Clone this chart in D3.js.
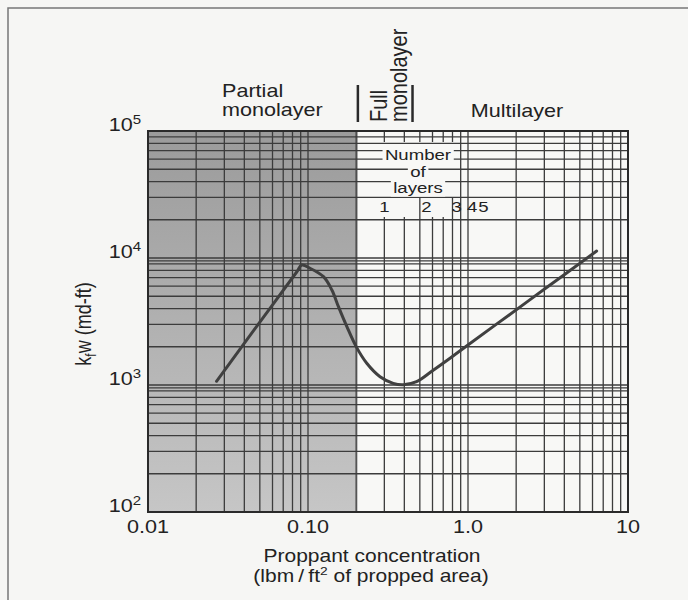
<!DOCTYPE html>
<html>
<head>
<meta charset="utf-8">
<script src="https://cdn.jsdelivr.net/npm/d3@7"></script>
<style>
  body { margin: 0; background: #f6f6f4; }
  svg { display: block; font-family: "Liberation Sans", Arial, sans-serif; }
</style>
</head>
<body>
<svg id="chart" width="688" height="600"></svg>
<script>
// curve
const concentration = [0.0268, 0.05, 0.085, 0.0914, 0.103, 0.125, 0.141, 0.155, 0.175, 0.2, 0.233, 0.282, 0.341, 0.394, 0.477, 0.6, 0.772, 0.98, 1.5, 3.1, 6.37];
const conductivity = [1070, 3130, 7760, 8800, 8300, 7130, 5600, 4140, 2880, 2005, 1483, 1162, 1031, 1005, 1062, 1295, 1625, 2030, 3000, 5850, 11350];

const xTicks = [0.01, 0.1, 1, 10];
const xTickLabels = ["0.01", "0.10", "1.0", "10"];
const yTicks = [100, 1000, 10000, 100000];
const yTickExp = ["2", "3", "4", "5"];

const partialZone = [0.01, 0.205];
const fullMonoZone = [0.205, 0.45];
const layerNames = ["1", "2", "3", "4", "5"];
const layerAt = [0.3, 0.55, 0.85, 1.06, 1.25];
const layerLines = [0.5, 0.8];   // lines that reach up through the label row

const svg = d3.select("#chart");
const W = 688, H = 600;
const x = d3.scaleLog().domain([0.01, 10]).range([148, 628]);
const y = d3.scaleLog().domain([100, 100000]).range([512, 131]);
const [x0, x1] = x.range();
const [y1, y0] = y.range();
const textInk = "#222";

// all text in the scan is stretched sideways
const stretched = (parent, tx, ty, size, anchor) => parent.append("text")
    .attr("transform", `translate(${tx},${ty}) scale(1.2,1)`)
    .attr("font-size", size)
    .attr("text-anchor", anchor)
    .attr("fill", textInk);

// page frame
svg.append("path").attr("d", `M8,${H} V8 H${W}`).attr("fill", "none").attr("stroke", "#777").attr("stroke-width", 1.5);

const defs = svg.append("defs");
const grad = defs.append("linearGradient").attr("id", "shade").attr("x1", 0).attr("y1", 0).attr("x2", 0).attr("y2", 1);
grad.append("stop").attr("offset", "0%").attr("stop-color", "#9b9b9b");
grad.append("stop").attr("offset", "100%").attr("stop-color", "#c6c6c6");

svg.append("rect").attr("x", x0).attr("y", y0).attr("width", x1 - x0).attr("height", y1 - y0).attr("fill", "#f8f8f6");
svg.append("rect")
    .attr("x", x(partialZone[0])).attr("y", y0)
    .attr("width", x(partialZone[1]) - x(partialZone[0])).attr("height", y1 - y0)
    .attr("fill", "url(#shade)");

// log grid values
const gridVals = (lo, hi) => {
    const out = [];
    for (let d = lo; d < hi * 0.999; d *= 10) {
        for (let m = 1; m <= 9; m++) out.push(+(d * m).toPrecision(3));
    }
    out.push(hi);
    return out;
};
const xGrid = gridVals(0.01, 10);
const yGrid = gridVals(100, 100000);

const grid = svg.append("g").attr("stroke", "#3c3c3c").attr("stroke-width", 1.3);

grid.selectAll(".h").data(yGrid).enter().append("line")
    .attr("x1", x0).attr("x2", x1)
    .attr("y1", d => y(d)).attr("y2", d => y(d));
// printed paper doubles the inner decade lines
grid.selectAll(".hd").data([1000, 10000]).enter().append("line")
    .attr("x1", x0).attr("x2", x1)
    .attr("y1", d => y(d * 0.95)).attr("y2", d => y(d * 0.95));

const inLabelZone = d => d > 0.25 && d < 0.85;
const labelRowTop = 217, tallTop = 198;

grid.selectAll(".v").data(xGrid).enter().append("line")
    .attr("x1", d => x(d)).attr("x2", d => x(d))
    .attr("y1", d => inLabelZone(d) ? (layerLines.includes(d) ? tallTop : labelRowTop) : y0)
    .attr("y2", y1);
grid.selectAll(".vt").data(xGrid.filter(inLabelZone)).enter().append("line")
    .attr("x1", d => x(d)).attr("x2", d => x(d))
    .attr("y1", y0).attr("y2", y0 + 11);

// "Number of layers" note with white boxes behind it
const note = svg.append("g");
["Number", "of", "layers"].forEach((t, i) => {
    const g = note.append("g").attr("transform", `translate(418,${160 + i * 16.5}) scale(1.2,1)`);
    const txt = g.append("text").attr("font-size", 15.5).attr("text-anchor", "middle").attr("fill", textInk).text(t);
    const b = txt.node().getBBox();
    g.insert("rect", "text").attr("x", b.x - 2).attr("y", b.y).attr("width", b.width + 4).attr("height", b.height).attr("fill", "#f8f8f6");
});
layerNames.forEach((t, i) => stretched(svg, x(layerAt[i]), 212, 15.5, "middle").text(t));

// frame of the plot
svg.append("rect").attr("x", x0).attr("y", y0).attr("width", x1 - x0).attr("height", y1 - y0)
    .attr("fill", "none").attr("stroke", "#2a2a2a").attr("stroke-width", 2);

// curve
const line = d3.line()
    .x((d, i) => x(concentration[i]))
    .y(d => y(d))
    .curve(d3.curveCatmullRom.alpha(0.5));
svg.append("path").datum(conductivity)
    .attr("d", line)
    .attr("fill", "none").attr("stroke", "#404040").attr("stroke-width", 3).attr("stroke-linecap", "round");

// tick labels
xTicks.forEach((v, i) => stretched(svg, x(v), 533, 18, "middle").text(xTickLabels[i]));
yTicks.forEach((v, i) => {
    const t = stretched(svg, 141, y(v), 18, "end");
    t.append("tspan").text("10");
    t.append("tspan").attr("font-size", 12.5).attr("dy", -7).text(yTickExp[i]);
});

// axis titles
stretched(svg, 372, 562, 17.5, "middle").text("Proppant concentration");
const xt2 = stretched(svg, 371, 582, 17.5, "middle");
xt2.append("tspan").text("(lbm\u2009/\u2009ft");
xt2.append("tspan").attr("font-size", 11.5).attr("dy", -7).text("2");
xt2.append("tspan").attr("dy", 7).text(" of propped area)");

const yt = svg.append("text")
    .attr("transform", "translate(91,324) scale(1.2,1) rotate(-90)")
    .attr("font-size", 18).attr("text-anchor", "middle").attr("fill", textInk);
yt.append("tspan").text("k");
yt.append("tspan").attr("font-size", 12).attr("dy", 4).text("f");
yt.append("tspan").attr("dy", -4).text("w (md-ft)");

// zone headings
stretched(svg, 222, 97, 18, "start").text("Partial");
stretched(svg, 222, 116, 18, "start").text("monolayer");
stretched(svg, 517, 117, 18, "middle").text("Multilayer");

svg.selectAll(".bar").data(fullMonoZone).enter().append("line")
    .attr("x1", d => x(d)).attr("x2", d => x(d))
    .attr("y1", 85).attr("y2", 122)
    .attr("stroke", "#2a2a2a").attr("stroke-width", 2.5);
svg.append("text").attr("transform", "translate(387,122) scale(1.2,1) rotate(-90)")
    .attr("font-size", 20).attr("fill", textInk).text("Full");
svg.append("text").attr("transform", "translate(407,122) scale(1.2,1) rotate(-90)")
    .attr("font-size", 20).attr("fill", textInk).text("monolayer");
</script>
</body>
</html>
